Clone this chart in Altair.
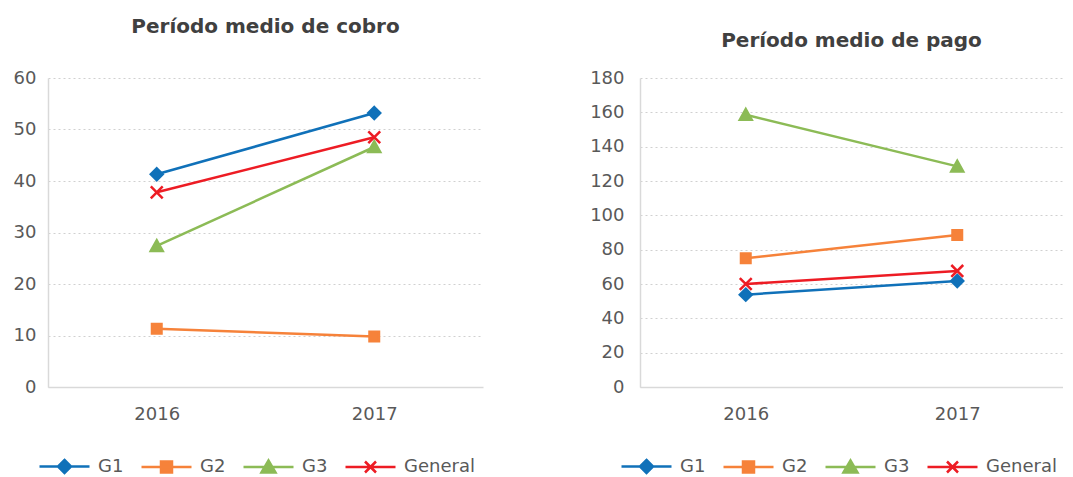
import altair as alt
import pandas as pd

years = ["2016", "2017"]
groups = ["G1", "G2", "G3", "General"]
colors = ["#1071B9", "#F6823A", "#8CBB56", "#ED1C24"]

cobro_g1 = [41.3, 53.2]
cobro_g2 = [11.3, 9.8]
cobro_g3 = [27.4, 46.6]
cobro_gen = [37.8, 48.5]

pago_g1 = [53.8, 61.8]
pago_g2 = [75.0, 88.5]
pago_g3 = [158.6, 128.5]
pago_gen = [60.0, 67.6]

marker_paths = [
    "M0,-0.85L0.85,0L0,0.85L-0.85,0Z",
    "M-0.68,-0.68H0.68V0.68H-0.68Z",
    "M-0.85,0.72L0,-0.8L0.85,0.72Z",
    "M-0.85,-0.85L0.85,0.85M-0.85,0.85L0.85,-0.85",
]
legend_paths = [
    "M-2.5,0H2.5M0,-0.65L0.65,0L0,0.65L-0.65,0Z",
    "M-2.5,0H2.5M-0.55,-0.55H0.55V0.55H-0.55Z",
    "M-2.5,0H2.5M-0.7,0.55L0,-0.65L0.7,0.55Z",
    "M-2.5,0H2.5M-0.55,-0.55L0.55,0.55M-0.55,0.55L0.55,-0.55",
]

FONT = "DejaVu Sans"
LABEL_COLOR = "#595959"


def make_df(series):
    rows = []
    for g, vals in zip(groups, series):
        for y, v in zip(years, vals):
            rows.append({"Año": y, "Grupo": g, "Valor": v})
    return pd.DataFrame(rows)


def panel(title, series, width, height, ymax, ystep, title_offset, leg_x, ylab_pad):
    df = make_df(series)
    base = alt.Chart(df).encode(
        x=alt.X(
            "Año:N",
            scale=alt.Scale(type="point", padding=0.5),
            axis=alt.Axis(
                title=None, labelAngle=0, ticks=False, grid=False,
                domainColor="#d9d9d9", domainWidth=1.5,
                labelFont=FONT, labelFontSize=18, labelColor=LABEL_COLOR,
                labelPadding=18,
            ),
        ),
        y=alt.Y(
            "Valor:Q",
            scale=alt.Scale(domain=[0, ymax], nice=False),
            axis=alt.Axis(
                title=None, values=list(range(0, ymax + 1, ystep)), ticks=False,
                domainColor="#d9d9d9", domainWidth=1.5,
                grid=True, gridColor="#d0d0d0", gridDash=[2, 3], gridWidth=1,
                labelFont=FONT, labelFontSize=18, labelColor=LABEL_COLOR,
                labelPadding=ylab_pad,
            ),
        ),
    )
    cscale = alt.Scale(domain=groups, range=colors)
    lines = base.mark_line(strokeWidth=2.5).encode(
        color=alt.Color("Grupo:N", scale=cscale, legend=None)
    )
    points = base.mark_point(filled=True, opacity=1, size=196, strokeWidth=2.5).encode(
        fill=alt.Fill("Grupo:N", scale=cscale, legend=None),
        stroke=alt.Stroke("Grupo:N", scale=cscale, legend=None),
        shape=alt.Shape("Grupo:N", scale=alt.Scale(domain=groups, range=marker_paths), legend=None),
    )
    leg = alt.Legend(
        title=None, orient="none", direction="horizontal",
        legendX=leg_x, legendY=height + 68, padding=0,
        symbolSize=400, symbolStrokeWidth=2.5, symbolOpacity=1,
        labelFont=FONT, labelFontSize=18, labelColor=LABEL_COLOR,
        labelOffset=22, columnPadding=12,
    )
    dummy = base.mark_point(filled=True, opacity=0).encode(
        fill=alt.Fill("Grupo:N", scale=cscale, legend=leg),
        stroke=alt.Stroke("Grupo:N", scale=cscale, legend=leg),
        shape=alt.Shape("Grupo:N", scale=alt.Scale(domain=groups, range=legend_paths), legend=leg),
    )
    chans = dict(color="independent", fill="independent", stroke="independent",
                 shape="independent")
    return (
        alt.layer(lines, points, dummy)
        .resolve_scale(**chans)
        .resolve_legend(**chans)
        .properties(
            width=width, height=height,
            title=alt.TitleParams(
                title, font=FONT, fontSize=20, fontWeight="bold", color="#404040",
                anchor="middle", offset=title_offset,
            ),
        )
    )


left = panel("Período medio de cobro", [cobro_g1, cobro_g2, cobro_g3, cobro_gen],
             435, 309, 60, 10, 32, 5, 12)
right = panel("Período medio de pago", [pago_g1, pago_g2, pago_g3, pago_gen],
              423, 309, 180, 20, 18, -5, 16)

chans = dict(color="independent", fill="independent", stroke="independent",
             shape="independent")
chart = (
    alt.hconcat(left, right, spacing=106)
    .resolve_scale(**chans)
    .resolve_legend(**chans)
    .properties(padding={"left": 5, "top": 9, "right": 0, "bottom": 0}, background="white")
    .configure_view(stroke=None)
)

chart.save("out.html", embed_options={"renderer": "svg", "actions": False})
